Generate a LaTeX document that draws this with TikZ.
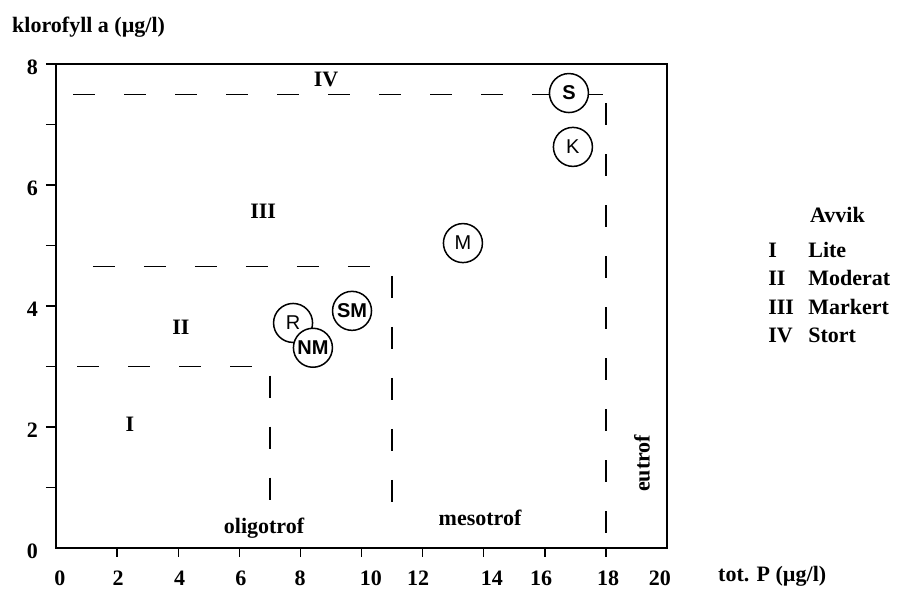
\documentclass[tikz,border=0pt]{standalone}
\usepackage{fontspec}
\setmainfont{Liberation Serif}
\setsansfont{Liberation Sans}
\usepackage{tikz}
\tikzset{
	grense/.style={line width=1.4pt, dash pattern=on 22pt off 29pt},
	sjo/.style={circle, draw, line width=1.5pt, fill=white, minimum size=39pt, inner sep=0pt, font=\sffamily\fontsize{20}{20}\selectfont},
	sjofet/.style={sjo, font=\sffamily\bfseries\fontsize{20}{20}\selectfont},
	tekst/.style={font=\bfseries\fontsize{22}{24}\selectfont, inner sep=0pt},
}

\begin{document}
\begin{tikzpicture}[x=30.55pt, y=60.5pt]
	%%%%% START %%%%%
	\useasboundingbox (-1.833,-0.678) rectangle (27.692,9.058);
	
	% ramme og akser
	\draw[line width=2pt] (0,0) rectangle (20,8);
	\foreach \y in {1,...,8} \draw[line width=1.4pt] (-0.33,\y) -- (0,\y);
	\foreach \x in {2,4,...,18} \draw[line width=1.4pt] (\x,0) -- (\x,-0.15);
	
	\foreach \v in {0,2,...,8} \node[tekst, anchor=east] (y\v) at (-0.59,\v-0.05) {\v};
	\foreach \v/\p in {0/0.13, 2/2.03, 4/4.05, 6/6.05, 8/7.99, 10/10.31, 12/11.85, 14/14.27, 16/15.88, 18/18.07, 20/19.77}
		\node[tekst] (x\v) at (\p,-0.496) {\v};
	
	\node[tekst, anchor=west] (ytittel) at (-1.44,8.61) {klorofyll a (µg/l)};
	\node[tekst, anchor=west] (xtittel) at (21.67,-0.47) {tot. P (µg/l)};
	
	% grenser
	\draw[grense] (0.69,3) -- (7.05,3);
	\draw[grense] (7,2.85) -- (7,0.7);
	\draw[grense] (1.21,4.65) -- (11.05,4.65);
	\draw[grense] (11,4.5) -- (11,0.38);
	\draw[grense] (0.56,7.5) -- (17.9,7.5);
	\draw[grense] (18,7.35) -- (18,0);
	
	\node[tekst] (I) at (2.42,2.05) {I};
	\node[tekst] (II) at (4.09,3.65) {II};
	\node[tekst] (III) at (6.78,5.57) {III};
	\node[tekst] (IV) at (8.84,7.74) {IV};
	
	\node[tekst] (oligotrof) at (6.81,0.33) {oligotrof};
	\node[tekst] (mesotrof) at (13.88,0.50) {mesotrof};
	\node[tekst, rotate=90] (eutrof) at (19.18,1.40) {eutrof};
	
	% innsjoer
	\node[sjofet] (S) at (16.79,7.52) {S};
	\node[sjo] (K) at (16.92,6.63) {K};
	\node[sjo] (M) at (13.32,5.04) {M};
	\node[sjofet] (SM) at (9.69,3.92) {SM};
	\node[sjo] (R) at (7.76,3.72) {R};
	\node[sjofet] (NM) at (8.41,3.31) {NM};
	
	% forklaring
	\node[tekst, anchor=west] (avvik) at (24.68,5.50) {Avvik};
	\foreach \n/\t/\y in {I/Lite/4.926, II/Moderat/4.463, III/Markert/3.983, IV/Stort/3.521} {
		\node[tekst, anchor=west] (n\n) at (23.31,\y) {\n};
		\node[tekst, anchor=west] (t\n) at (24.62,\y) {\t};
	}
	
	%%%%% END %%%%%
\end{tikzpicture}
\end{document}
